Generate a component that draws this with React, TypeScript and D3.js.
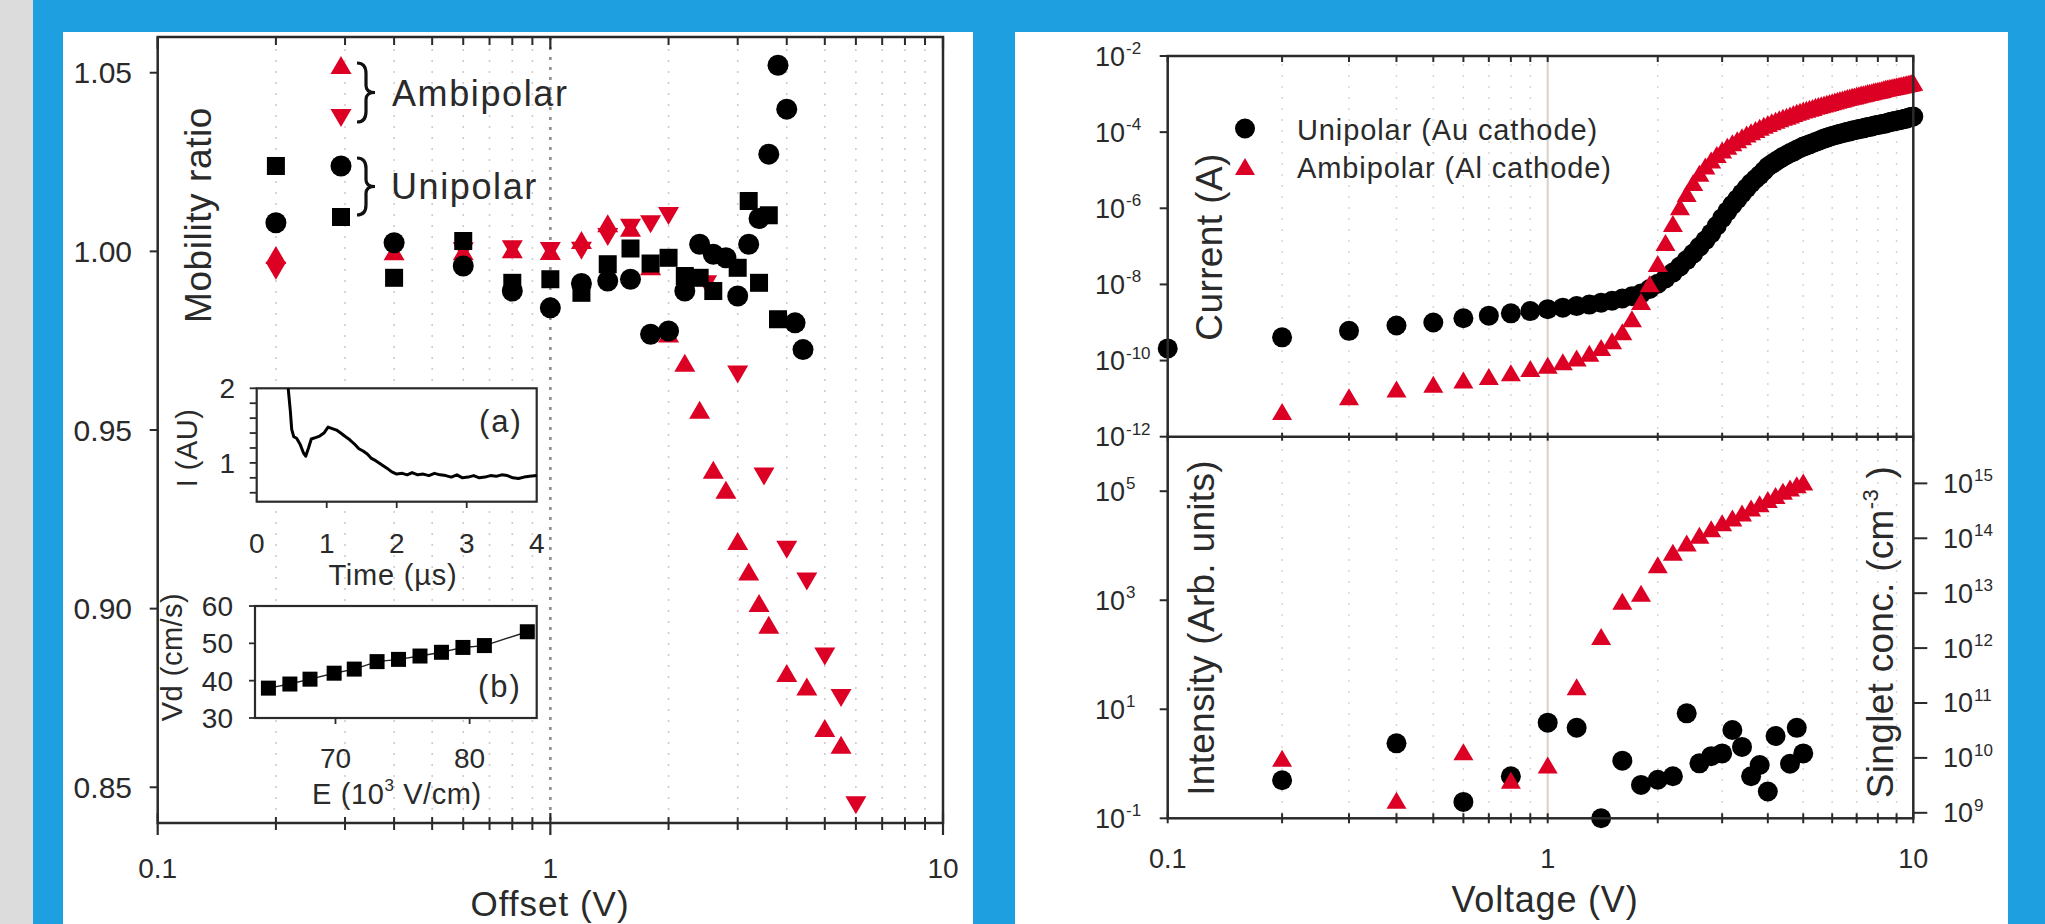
import * as d3 from 'd3';

const RED = '#dc0024';
const INK = '#2a2a2a';
const FONT = '"Liberation Sans", Arial, Helvetica, sans-serif';

// ---- left panel: mobility ratio vs offset ----
const uniCircleOffset = [0.2, 0.4, 0.6, 0.8, 1.0, 1.2, 1.4, 1.6, 1.8, 2.0, 2.2, 2.4, 2.6, 2.8, 3.0, 3.2, 3.4, 3.6, 3.8, 4.0, 4.2, 4.4];
const uniCircleRatio = [1.008, 1.0024, 0.9959, 0.9889, 0.9842, 0.991, 0.9917, 0.9922, 0.9768, 0.9777, 0.9889, 1.002, 0.9992, 0.9982, 0.9875, 1.002, 1.0092, 1.0272, 1.0521, 1.0398, 0.98, 0.9725];
const uniSquareOffset = [0.2, 0.4, 0.6, 0.8, 1.0, 1.2, 1.4, 1.6, 1.8, 2.0, 2.2, 2.4, 2.6, 3.0, 3.2, 3.4, 3.6, 3.8];
const uniSquareRatio = [1.0239, 0.9926, 1.0029, 0.9912, 0.9922, 0.9884, 0.9964, 1.0008, 0.9966, 0.9982, 0.9931, 0.9926, 0.9889, 0.9954, 1.0141, 0.9912, 1.0101, 0.981];
const ambiUpOffset = [0.2, 0.4, 0.6, 0.8, 1.0, 1.2, 1.4, 1.6, 1.8, 2.0, 2.2, 2.4, 2.6, 2.8, 3.0, 3.2, 3.4, 3.6, 4.0, 4.5, 5.0, 5.5];
const ambiUpRatio = [0.999, 1.0, 1.0, 1.0006, 1.0001, 1.0032, 1.0079, 1.0066, 0.9958, 0.977, 0.9688, 0.9557, 0.9389, 0.9333, 0.9189, 0.9104, 0.9016, 0.8955, 0.882, 0.8782, 0.8666, 0.8619];
const ambiDownOffset = [0.2, 0.4, 0.6, 0.8, 1.0, 1.2, 1.4, 1.6, 1.8, 2.0, 2.5, 3.0, 3.5, 4.0, 4.5, 5.0, 5.5, 6.0];
const ambiDownRatio = [0.9946, 1.0, 1.0, 1.0006, 1.0001, 1.0002, 1.004, 1.0066, 1.0076, 1.0099, 0.9908, 0.9655, 0.937, 0.9165, 0.9076, 0.8866, 0.875, 0.845];

const decadeTicks = [0.1, 1, 10];
const minorTicks = [0.2, 0.3, 0.4, 0.5, 0.6, 0.7, 0.8, 0.9, 2, 3, 4, 5, 6, 7, 8, 9];
const ratioTicks = [0.85, 0.9, 0.95, 1.0, 1.05];

// inset (a): transient current
const timeUs = [0.45, 0.48, 0.5, 0.53, 0.57, 0.62, 0.67, 0.7, 0.74, 0.78, 0.84, 0.9, 0.96, 1.02, 1.08, 1.14, 1.2, 1.27, 1.33, 1.4, 1.46, 1.52, 1.58, 1.64, 1.7, 1.78, 1.86, 1.93, 2.0, 2.08, 2.15, 2.22, 2.3, 2.38, 2.46, 2.54, 2.62, 2.7, 2.78, 2.86, 2.94, 3.02, 3.1, 3.18, 3.26, 3.34, 3.42, 3.5, 3.58, 3.66, 3.74, 3.82, 3.9, 4.0];
const currentAU = [2.0, 1.7, 1.45, 1.35, 1.33, 1.25, 1.13, 1.09, 1.2, 1.32, 1.34, 1.36, 1.4, 1.48, 1.46, 1.44, 1.4, 1.35, 1.31, 1.25, 1.19, 1.16, 1.12, 1.06, 1.03, 0.98, 0.93, 0.88, 0.85, 0.86, 0.84, 0.87, 0.84, 0.85, 0.83, 0.86, 0.84, 0.83, 0.81, 0.84, 0.8, 0.81, 0.83, 0.8, 0.81, 0.83, 0.82, 0.84, 0.83, 0.8, 0.79, 0.81, 0.82, 0.83];
const timeTicks = [0, 1, 2, 3, 4];
const auTicks = [1, 2];
const auMinor = [0.6, 0.8, 1.2, 1.4, 1.6, 1.8];

// inset (b): drift velocity vs field
const fieldE = [65.0, 66.6, 68.1, 69.9, 71.4, 73.1, 74.7, 76.3, 77.9, 79.5, 81.1, 84.3];
const driftVd = [38.0, 39.1, 40.4, 42.0, 43.1, 45.1, 45.7, 46.6, 47.6, 48.9, 49.4, 53.1];
const fieldTicks = [70, 80];
const vdTicks = [30, 40, 50, 60];

// ---- right panel: current and intensity vs voltage ----
const ivVolt = [
  0.1, 0.2, 0.3, 0.4, 0.5, 0.6, 0.7, 0.8, 0.9, 1.0,
  1.1, 1.2, 1.3, 1.4, 1.5, 1.6, 1.7, 1.8, 1.9, 2.0,
  2.1, 2.2, 2.3, 2.4, 2.5, 2.6, 2.7, 2.8, 2.9, 3.0,
  3.1, 3.2, 3.3, 3.4, 3.5, 3.6, 3.7, 3.8, 3.9, 4.0,
  4.1, 4.2, 4.3, 4.4, 4.5, 4.6, 4.7, 4.8, 4.9, 5.0,
  5.1, 5.2, 5.3, 5.4, 5.5, 5.6, 5.7, 5.8, 5.9, 6.0,
  6.1, 6.2, 6.3, 6.4, 6.5, 6.6, 6.7, 6.8, 6.9, 7.0,
  7.1, 7.2, 7.3, 7.4, 7.5, 7.6, 7.7, 7.8, 7.9, 8.0,
  8.1, 8.2, 8.3, 8.4, 8.5, 8.6, 8.7, 8.8, 8.9, 9.0,
  9.1, 9.2, 9.3, 9.4, 9.5, 9.6, 9.7, 9.8, 9.9, 10.0,
];
// log10 of current (A)
const logIUnipolar = [
  -9.68, -9.39, -9.22, -9.08, -9.0, -8.89, -8.82, -8.76, -8.7, -8.65,
  -8.61, -8.57, -8.53, -8.48, -8.43, -8.37, -8.31, -8.24, -8.12, -7.98,
  -7.84, -7.69, -7.53, -7.36, -7.19, -7.01, -6.84, -6.66, -6.46, -6.26,
  -6.08, -5.91, -5.76, -5.61, -5.47, -5.34, -5.23, -5.13, -5.02, -4.91,
  -4.84, -4.77, -4.71, -4.65, -4.6, -4.55, -4.51, -4.46, -4.42, -4.38,
  -4.35, -4.32, -4.29, -4.26, -4.23, -4.2, -4.17, -4.15, -4.12, -4.1,
  -4.08, -4.06, -4.04, -4.03, -4.01, -3.99, -3.98, -3.96, -3.95, -3.94,
  -3.92, -3.91, -3.9, -3.88, -3.87, -3.86, -3.85, -3.83, -3.82, -3.81,
  -3.8, -3.79, -3.78, -3.77, -3.76, -3.74, -3.73, -3.72, -3.71, -3.7,
  -3.69, -3.68, -3.67, -3.66, -3.65, -3.64, -3.62, -3.61, -3.6, -3.59,
];
// ambipolar starts at 0.2 V
const logIAmbipolar = [
  -11.34, -10.95, -10.75, -10.62, -10.51, -10.42, -10.32, -10.21, -10.12,
  -10.03, -9.93, -9.81, -9.66, -9.48, -9.24, -8.9, -8.45, -7.98, -7.45,
  -6.9, -6.4, -5.96, -5.61, -5.32, -5.08, -4.89, -4.73, -4.59, -4.47,
  -4.37, -4.28, -4.2, -4.12, -4.05, -3.99, -3.93, -3.87, -3.82, -3.77,
  -3.73, -3.69, -3.65, -3.61, -3.58, -3.55, -3.51, -3.48, -3.45, -3.42,
  -3.4, -3.37, -3.35, -3.32, -3.3, -3.28, -3.26, -3.24, -3.22, -3.2,
  -3.18, -3.16, -3.14, -3.13, -3.11, -3.09, -3.08, -3.06, -3.05, -3.03,
  -3.02, -3.0, -2.99, -2.98, -2.96, -2.95, -2.94, -2.92, -2.91, -2.9,
  -2.89, -2.88, -2.86, -2.85, -2.84, -2.83, -2.82, -2.81, -2.8, -2.79,
  -2.78, -2.77, -2.76, -2.75, -2.74, -2.73, -2.72, -2.71, -2.7, -2.69,
];

const elUniVolt = [0.2, 0.4, 0.6, 0.8, 1.0, 1.2, 1.4, 1.6, 1.8, 2.0, 2.2, 2.4, 2.6, 2.8, 3.0, 3.2, 3.4, 3.6, 3.8, 4.0, 4.2, 4.6, 4.8, 5.0];
const elUniIntensity = [0.5, 2.37, 0.2, 0.59, 5.68, 4.59, 0.1, 1.14, 0.41, 0.51, 0.59, 8.43, 1.02, 1.38, 1.55, 4.17, 2.04, 0.59, 0.95, 0.31, 3.24, 1.0, 4.57, 1.55];
const elAmbiVolt = [0.2, 0.4, 0.6, 0.8, 1.0, 1.2, 1.4, 1.6, 1.8, 2.0, 2.2, 2.4, 2.6, 2.8, 3.0, 3.2, 3.4, 3.6, 3.8, 4.0, 4.2, 4.4, 4.6, 4.8, 5.0];
const elAmbiIntensity = [1.26, 0.215, 1.66, 0.5, 0.95, 26, 216, 955, 1349, 4467, 7586, 11220, 15490, 20420, 26300, 32360, 39810, 48980, 58880, 70790, 83180, 100000, 114800, 131800, 147900];

const currentExps = [-2, -4, -6, -8, -10, -12];
const intensityExps = [5, 3, 1, -1];
const singletExps = [9, 10, 11, 12, 13, 14, 15];

const triPath = (cx: number, cy: number, w: number, h: number, up: boolean) =>
  up
    ? `M${cx},${cy - h / 2}L${cx + w / 2},${cy + h / 2}L${cx - w / 2},${cy + h / 2}Z`
    : `M${cx},${cy + h / 2}L${cx + w / 2},${cy - h / 2}L${cx - w / 2},${cy - h / 2}Z`;

const bracePath = (x: number, y0: number, y1: number, w: number) => {
  const m = (y0 + y1) / 2;
  const h = y1 - y0;
  const xm = x + w * 0.5;
  return `M${x},${y0} Q${xm},${y0} ${xm},${y0 + h * 0.18} L${xm},${m - h * 0.12} Q${xm},${m} ${x + w},${m} Q${xm},${m} ${xm},${m + h * 0.12} L${xm},${y1 - h * 0.18} Q${xm},${y1} ${x},${y1}`;
};

function Pow({ x, y, exp }: { x: number; y: number; exp: number }) {
  return (
    <g>
      <text x={x} y={y + 9.5} fontSize={27}>10</text>
      <text x={x + 31} y={y - 2} fontSize={17}>{String(exp)}</text>
    </g>
  );
}

function MobilityPanel() {
  const L = 157.7, R = 943, T = 37, B = 823;
  const x = d3.scaleLog().domain([0.1, 10]).range([L, R]);
  const y = d3.scaleLinear().domain([0.84, 1.06]).range([B, T]);

  const xa = d3.scaleLinear().domain([0, 4]).range([256.7, 536.7]);
  const ya = d3.scaleLinear().domain([0.48, 2]).range([501.7, 388.3]);
  const lineA = d3.line<number>().x((_, i) => xa(timeUs[i])).y((d) => ya(d));

  const xb = d3.scaleLinear().domain([64, 85]).range([255, 536.7]);
  const yb = d3.scaleLinear().domain([30, 60]).range([718, 606]);
  const lineB = d3.line<number>().x((_, i) => xb(fieldE[i])).y((d) => yb(d));

  return (
    <g>
      {/* grid */}
      {minorTicks.map((t) => (
        <line key={'g' + t} x1={x(t)} x2={x(t)} y1={T + 12} y2={B} stroke="#d6c8c8" strokeWidth={1.6} strokeDasharray="2,9" />
      ))}
      <line x1={x(1)} x2={x(1)} y1={T} y2={B} stroke="#8e8e8e" strokeWidth={2.6} strokeDasharray="3,7" />

      {/* inset (a) */}
      <rect x={256.7} y={388.3} width={280} height={113.4} fill="#fff" stroke={INK} strokeWidth={2.2} />
      <path d={lineA(currentAU) || ''} fill="none" stroke="#000" strokeWidth={3} strokeLinejoin="round" />
      {auTicks.concat(auMinor).map((t) => (
        <line key={'ay' + t} x1={256.7 - 7} x2={256.7} y1={ya(t)} y2={ya(t)} stroke={INK} strokeWidth={1.8} />
      ))}
      {timeTicks.slice(1, 4).map((t) => (
        <line key={'ax' + t} x1={xa(t)} x2={xa(t)} y1={501.7} y2={508} stroke={INK} strokeWidth={1.8} />
      ))}
      {auTicks.map((t) => (
        <text key={'al' + t} x={235} y={ya(t) + 10} fontSize={28} textAnchor="end">{t}</text>
      ))}
      {timeTicks.map((t) => (
        <text key={'atl' + t} x={xa(t)} y={553} fontSize={28} textAnchor="middle">{t}</text>
      ))}
      <text x={393} y={585} fontSize={29} textAnchor="middle" letterSpacing={0.8}>Time (µs)</text>
      <text x={501} y={432} fontSize={31} textAnchor="middle" letterSpacing={2}>(a)</text>
      <text transform="translate(187,448) rotate(-90)" fontSize={29} textAnchor="middle" dy="0.35em" letterSpacing={0.5}>I (AU)</text>

      {/* inset (b) */}
      <rect x={255} y={606} width={281.7} height={112} fill="#fff" stroke={INK} strokeWidth={2.2} />
      <path d={lineB(driftVd) || ''} fill="none" stroke="#222" strokeWidth={1.4} />
      {driftVd.map((v, i) => (
        <rect key={'bs' + i} x={xb(fieldE[i]) - 7.5} y={yb(v) - 7.5} width={15} height={15} fill="#000" />
      ))}
      {vdTicks.map((t) => (
        <g key={'by' + t}>
          <line x1={249} x2={255} y1={yb(t)} y2={yb(t)} stroke={INK} strokeWidth={1.8} />
          <text x={233} y={yb(t) + 10} fontSize={28} textAnchor="end">{t}</text>
        </g>
      ))}
      {fieldTicks.map((t) => (
        <g key={'bx' + t}>
          <line x1={xb(t)} x2={xb(t)} y1={718} y2={724} stroke={INK} strokeWidth={1.8} />
          <text x={xb(t)} y={768} fontSize={28} textAnchor="middle">{t}</text>
        </g>
      ))}
      <text x={500} y={697} fontSize={31} textAnchor="middle" letterSpacing={2}>(b)</text>
      <text x={397} y={804} fontSize={29} textAnchor="middle" letterSpacing={0.6}>
        <tspan>E (10</tspan>
        <tspan dy={-13} fontSize={17}>3</tspan>
        <tspan dy={13}> V/cm)</tspan>
      </text>
      <text transform="translate(172,657) rotate(-90)" fontSize={29} textAnchor="middle" dy="0.35em" letterSpacing={0.5}>Vd (cm/s)</text>

      {/* data */}
      {ambiUpRatio.map((v, i) => (
        <path key={'u' + i} d={triPath(x(ambiUpOffset[i]), y(v), 21, 18, true)} fill={RED} />
      ))}
      {ambiDownRatio.map((v, i) => (
        <path key={'d' + i} d={triPath(x(ambiDownOffset[i]), y(v), 21, 18, false)} fill={RED} />
      ))}
      {uniSquareRatio.map((v, i) => (
        <rect key={'s' + i} x={x(uniSquareOffset[i]) - 9} y={y(v) - 9} width={18} height={18} fill="#000" />
      ))}
      {uniCircleRatio.map((v, i) => (
        <circle key={'c' + i} cx={x(uniCircleOffset[i])} cy={y(v)} r={10.5} fill="#000" />
      ))}

      {/* legend */}
      <path d={triPath(341, 65, 21, 18, true)} fill={RED} />
      <path d={triPath(341, 118, 21, 18, false)} fill={RED} />
      <circle cx={341} cy={166} r={10.5} fill="#000" />
      <rect x={332} y={208} width={18} height={18} fill="#000" />
      <path d={bracePath(357, 63, 122, 18)} fill="none" stroke="#111" strokeWidth={3.2} />
      <path d={bracePath(357, 158, 215, 18)} fill="none" stroke="#111" strokeWidth={3.2} />
      <text x={392} y={106} fontSize={36} letterSpacing={1.6}>Ambipolar</text>
      <text x={391} y={199} fontSize={36} letterSpacing={1.6}>Unipolar</text>

      {/* frame and axes */}
      <rect x={L} y={T} width={R - L} height={B - T} fill="none" stroke={INK} strokeWidth={2.5} />
      {minorTicks.map((t) => (
        <g key={'t' + t}>
          <line x1={x(t)} x2={x(t)} y1={T} y2={T + 8} stroke={INK} strokeWidth={2} />
          <line x1={x(t)} x2={x(t)} y1={B - 6} y2={B + 7} stroke={INK} strokeWidth={2} />
        </g>
      ))}
      {decadeTicks.map((t) => (
        <g key={'T' + t}>
          <line x1={x(t)} x2={x(t)} y1={T} y2={T + 12} stroke={INK} strokeWidth={2.2} />
          <line x1={x(t)} x2={x(t)} y1={B - 10} y2={B + 12} stroke={INK} strokeWidth={2.2} />
          <text x={x(t)} y={878} fontSize={28} textAnchor="middle">{String(t)}</text>
        </g>
      ))}
      {ratioTicks.map((t) => (
        <g key={'r' + t}>
          <line x1={L - 8} x2={L} y1={y(t)} y2={y(t)} stroke={INK} strokeWidth={2} />
          <text x={132} y={y(t) + 10.5} fontSize={30} textAnchor="end">{d3.format('.2f')(t)}</text>
        </g>
      ))}
      <text transform="translate(198,215) rotate(-90)" fontSize={37} textAnchor="middle" dy="0.35em" letterSpacing={0.6}>Mobility ratio</text>
      <text x={550} y={916} fontSize={35} textAnchor="middle" letterSpacing={1}>Offset (V)</text>
    </g>
  );
}

function VoltagePanel() {
  const L = 1167.7, R = 1913.3, T = 56, M = 436.7, B = 818.3;
  const x = d3.scaleLog().domain([0.1, 1, 10]).range([L, 1547.7, R]);
  const yI = d3.scaleLog().domain([1e-12, 1e-2]).range([M, T]);
  const yE = d3.scaleLog().domain([0.1, 1e6]).range([B, M]);
  const yS = d3.scaleLog().domain([Math.pow(10, 8.9), Math.pow(10, 15.85)]).range([B, M]);
  const ambiVolt = ivVolt.slice(1);

  return (
    <g>
      {minorTicks.map((t) => (
        <line key={'g' + t} x1={x(t)} x2={x(t)} y1={T + 8} y2={B} stroke="#dcd3d3" strokeWidth={1.5} strokeDasharray="2,9" />
      ))}
      <line x1={x(1)} x2={x(1)} y1={T} y2={B} stroke="#ddd4cc" strokeWidth={2.2} />

      {/* upper: current */}
      {logIUnipolar.map((v, i) => (
        <circle key={'ic' + i} cx={x(ivVolt[i])} cy={yI(Math.pow(10, v))} r={10} fill="#000" />
      ))}
      {logIAmbipolar.map((v, i) => (
        <path key={'it' + i} d={triPath(x(ambiVolt[i]), yI(Math.pow(10, v)), 20, 17, true)} fill={RED} />
      ))}

      {/* lower: intensity */}
      {elUniIntensity.map((v, i) => (
        <circle key={'ec' + i} cx={x(elUniVolt[i])} cy={yE(v)} r={10} fill="#000" />
      ))}
      {elAmbiIntensity.map((v, i) => (
        <path key={'et' + i} d={triPath(x(elAmbiVolt[i]), yE(v), 20, 17, true)} fill={RED} />
      ))}

      {/* legend */}
      <circle cx={1245} cy={128.5} r={10} fill="#000" />
      <path d={triPath(1245, 166.5, 20, 17, true)} fill={RED} />
      <text x={1297} y={140} fontSize={29} letterSpacing={0.9}>Unipolar (Au cathode)</text>
      <text x={1297} y={178} fontSize={29} letterSpacing={0.9}>Ambipolar (Al cathode)</text>

      {/* frame */}
      <rect x={L} y={T} width={R - L} height={B - T} fill="none" stroke={INK} strokeWidth={2.5} />
      <line x1={L} x2={R} y1={M} y2={M} stroke={INK} strokeWidth={2.5} />
      {minorTicks.concat(decadeTicks).map((t) => (
        <g key={'t' + t}>
          <line x1={x(t)} x2={x(t)} y1={T} y2={T + 6} stroke={INK} strokeWidth={2} />
          <line x1={x(t)} x2={x(t)} y1={M - 4} y2={M + 4} stroke={INK} strokeWidth={2} />
          <line x1={x(t)} x2={x(t)} y1={B - 5} y2={B + 5} stroke={INK} strokeWidth={2} />
        </g>
      ))}
      {decadeTicks.map((t) => (
        <text key={'xl' + t} x={x(t)} y={868} fontSize={27} textAnchor="middle">{String(t)}</text>
      ))}
      {currentExps.map((e) => (
        <g key={'ce' + e}>
          <line x1={L - 8} x2={L} y1={yI(Math.pow(10, e))} y2={yI(Math.pow(10, e))} stroke={INK} strokeWidth={2} />
          <Pow x={1095} y={yI(Math.pow(10, e))} exp={e} />
        </g>
      ))}
      {intensityExps.map((e) => (
        <g key={'ie' + e}>
          <line x1={L - 8} x2={L} y1={yE(Math.pow(10, e))} y2={yE(Math.pow(10, e))} stroke={INK} strokeWidth={2} />
          <Pow x={1095} y={yE(Math.pow(10, e))} exp={e} />
        </g>
      ))}
      {singletExps.map((e) => (
        <g key={'se' + e}>
          <line x1={R} x2={R + 14} y1={yS(Math.pow(10, e))} y2={yS(Math.pow(10, e))} stroke={INK} strokeWidth={2} />
          <Pow x={1943} y={yS(Math.pow(10, e))} exp={e} />
        </g>
      ))}

      <text transform="translate(1209,247) rotate(-90)" fontSize={37} textAnchor="middle" dy="0.35em" letterSpacing={0.4}>Current (A)</text>
      <text transform="translate(1201,628) rotate(-90)" fontSize={37} textAnchor="middle" dy="0.35em" letterSpacing={0.3}>Intensity (Arb. units)</text>
      <text transform="translate(1880,632) rotate(-90)" fontSize={37} textAnchor="middle" dy="0.35em" letterSpacing={0.3}>
        <tspan>Singlet conc. (cm</tspan>
        <tspan dy={-15} fontSize={22}>-3</tspan>
        <tspan dy={15}> )</tspan>
      </text>
      <text x={1545} y={912} fontSize={36} textAnchor="middle" letterSpacing={0.8}>Voltage (V)</text>
    </g>
  );
}

export default function App() {
  return (
    <div style={{ position: 'fixed', left: 0, top: 0 }}>
      <svg width={2045} height={924} style={{ display: 'block' }} fontFamily={FONT} fill={INK}>
        <rect x={0} y={0} width={2045} height={924} fill="#1e9fe0" />
        <rect x={0} y={0} width={33} height={924} fill="#dcdcdc" />
        <rect x={63} y={32} width={910} height={892} fill="#fff" />
        <rect x={1015} y={32} width={993} height={892} fill="#fff" />
        <MobilityPanel />
        <VoltagePanel />
      </svg>
    </div>
  );
}
